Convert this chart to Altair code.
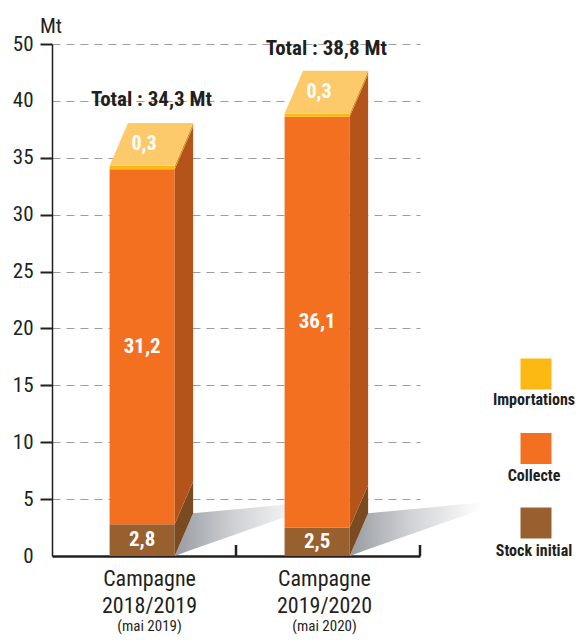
import altair as alt
import pandas as pd

# ------------------------------------------------------------------ data
campagne_line1 = ["Campagne", "Campagne"]
campagne_line2 = ["2018/2019", "2019/2020"]
campagne_line3 = ["(mai 2019)", "(mai 2020)"]
stock_initial = [2.8, 2.5]
collecte = [31.2, 36.1]
importations = [0.3, 0.3]
totals = [34.3, 38.8]
series_names = ["Stock initial", "Collecte", "Importations"]
legend_order = ["Importations", "Collecte", "Stock initial"]
y_tick_values = [0, 5, 10, 15, 20, 25, 30, 35, 40, 45]
y_tick_labels = ["0", "5", "10", "15", "20", "25", "30", "35", "40", "50"]
unit_label = "Mt"
total_prefix = "Total : "

# ------------------------------------------------------------------ style
FONT = "Liberation Sans Narrow, Roboto Condensed, Arial Narrow, Roboto, sans-serif"
INK = "#231F20"
front_colors = {"Stock initial": "#98602F", "Collecte": "#F37021", "Importations": "#FDB913"}
side_colors = {"Stock initial": "#7A4A21", "Collecte": "#B5541A", "Importations": "#D99412"}
top_color = "#FDCA6B"
HALF = 0.177   # half width of a bar front (x units)
DX = 0.10      # depth offset along x (x units)
DY = 3.75      # depth offset along y (y units)
SLOT = 0.49    # first bar centre
STEP = 0.951   # distance between bar centres


def fr(v):
    return f"{v:.1f}".replace(".", ",")


n = len(totals)
centers = [SLOT + i * STEP for i in range(n)]

front_rows, side_rows, top_rows, shadow_rows, label_rows = [], [], [], [], []
for i in range(n):
    c = centers[i]
    xl, xr = c - HALF, c + HALF
    segs = [("Stock initial", stock_initial[i]), ("Collecte", collecte[i]), ("Importations", importations[i])]
    lo = 0.0
    for name, v in segs:
        hi = lo + v
        front_rows.append(dict(x=xl, x2=xr, y=lo, y2=hi, col=front_colors[name]))
        pid = f"{i}-{name}"
        side_rows.append(dict(pid=pid, x=xr, lo=lo, hi=hi, col=side_colors[name]))
        side_rows.append(dict(pid=pid, x=xr + DX, lo=lo + DY, hi=hi + DY, col=side_colors[name]))
        if name != "Importations":
            label_rows.append(dict(x=c, y=(lo + hi) / 2, t=fr(v), fs=21))
        lo = hi
    top = lo
    pid = f"top{i}"
    for xx, a, b in [(xl, top, top), (xl + DX, top, top + DY), (xr, top, top + DY), (xr + DX, top + DY, top + DY)]:
        top_rows.append(dict(pid=pid, x=xx, lo=a, hi=b, col=top_color))
    label_rows.append(dict(x=c + 0.01, y=top + DY / 2, t=fr(importations[i]), fs=20))
    sid = f"sh{i}"
    for xx, a, b in [(xr, 0.0, 0.0), (xr + DX, 0.6, DY), (xr + 0.72, 4.1, 4.7)]:
        shadow_rows.append(dict(pid=sid, x=xx, lo=a, hi=b))

front_df = pd.DataFrame(front_rows)
side_df = pd.DataFrame(side_rows)
top_df = pd.DataFrame(top_rows)
shadow_df = pd.DataFrame(shadow_rows)
label_df = pd.DataFrame(label_rows)
total_df = pd.DataFrame(dict(x=[c + DX / 2 for c in centers],
                             y=[t + 5.25 for t in totals],
                             t=[f"{total_prefix}{fr(t)} {unit_label}" for t in totals]))
cat_rows = []
for i in range(n):
    for txt, py, fs in [(campagne_line1[i], 586, 22), (campagne_line2[i], 613, 22), (campagne_line3[i], 631, 15)]:
        cat_rows.append(dict(x=centers[i] + 0.04, py=py - 44, fs=fs, t=txt))
cat_df = pd.DataFrame(cat_rows)
tick_df = pd.DataFrame(dict(x=[float(i + 1) for i in range(n)]))
leg_df = pd.DataFrame(dict(
    name=legend_order,
    col=[front_colors[s] for s in legend_order],
    px=[484] * 3,
    tx=[482] * 3,
    py=[330 + 74.5 * k for k in range(3)],
    ty=[361 + 75.5 * k for k in range(3)],
))
unit_df = pd.DataFrame(dict(t=[unit_label]))

# ------------------------------------------------------------------ scales / axes
W, H = 368, 512
xs = alt.Scale(domain=[0, 2], nice=False, zero=False)
ys = alt.Scale(domain=[0, 45], nice=False, zero=False)

label_expr = "datum.label"
for v, l in zip(y_tick_values, y_tick_labels):
    if str(v) != l:
        label_expr = f"datum.value == {v} ? '{l}' : ({label_expr})"

y_axis = alt.Axis(
    values=y_tick_values, labelExpr=label_expr, title=None,
    labelFont=FONT, labelFontSize=21, labelColor=INK, labelPadding=7,
    domainColor=INK, domainWidth=1.5, tickColor=INK, tickWidth=2, tickSize=12,
    tickOpacity={"condition": {"test": "datum.value == 0 || datum.value == 40", "value": 0}, "value": 1},
    grid=True, gridDash=[8, 6], gridColor="#9d9d9d", gridWidth=1,
    gridOpacity={"condition": {"test": "datum.value == 0", "value": 0}, "value": 1},
)
x_axis = alt.Axis(labels=False, ticks=False, grid=False, title=None, domainColor=INK, domainWidth=2.5)


def X(field):
    return alt.X(field, scale=xs, axis=x_axis)


def Y(field):
    return alt.Y(field, scale=ys, axis=y_axis, stack=None)


shadow = alt.Chart(shadow_df).mark_area(
    fill=alt.LinearGradient(gradient="linear",
                            stops=[alt.GradientStop(offset=0, color="#979ba1"),
                                   alt.GradientStop(offset=0.45, color="#cfd1d4"),
                                   alt.GradientStop(offset=1, color="#ffffff")],
                            x1=0, x2=1, y1=0, y2=0)
).encode(x=X("x:Q"), y=Y("lo:Q"), y2="hi:Q", detail="pid:N")

fronts = alt.Chart(front_df).mark_rect().encode(
    x=X("x:Q"), x2="x2:Q", y=Y("y:Q"), y2="y2:Q",
    color=alt.Color("col:N", scale=None),
)

sides = alt.Chart(side_df).mark_area().encode(
    x=X("x:Q"), y=Y("lo:Q"), y2="hi:Q", detail="pid:N",
    color=alt.Color("col:N", scale=None),
)

tops = alt.Chart(top_df).mark_area().encode(
    x=X("x:Q"), y=Y("lo:Q"), y2="hi:Q", detail="pid:N",
    color=alt.Color("col:N", scale=None),
)

ticks = alt.Chart(tick_df).mark_rule(color=INK, strokeWidth=2.5).encode(
    x=X("x:Q"), y=alt.value(H - 11), y2=alt.value(H),
)

values = alt.Chart(label_df).mark_text(font=FONT, fontWeight="bold", color="white",
                                       baseline="middle").encode(
    x=X("x:Q"), y=Y("y:Q"), size=alt.Size("fs:Q", scale=None), text="t:N",
)

total_txt = alt.Chart(total_df).mark_text(font=FONT, fontSize=21, fontWeight="bold", color=INK,
                                          baseline="alphabetic").encode(
    x=X("x:Q"), y=Y("y:Q"), text="t:N",
)

cats = alt.Chart(cat_df).mark_text(font=FONT, color=INK, baseline="alphabetic").encode(
    x=X("x:Q"), y=alt.Y("py:Q", scale=None),
    size=alt.Size("fs:Q", scale=None), text="t:N",
)

leg_sq = alt.Chart(leg_df).mark_square(size=31 * 31, opacity=1).encode(
    x=alt.X("px:Q", scale=None), y=alt.Y("py:Q", scale=None),
    color=alt.Color("col:N", scale=None),
)
leg_tx = alt.Chart(leg_df).mark_text(font=FONT, fontSize=16, fontWeight="bold", color=INK,
                                     baseline="alphabetic").encode(
    x=alt.X("tx:Q", scale=None), y=alt.Y("ty:Q", scale=None), text="name:N",
)

unit = alt.Chart(unit_df).mark_text(font=FONT, fontSize=21, color=INK, align="left",
                                    baseline="alphabetic").encode(
    x=alt.value(-12), y=alt.value(-11), text="t:N",
)

chart = alt.layer(shadow, fronts, sides, tops, ticks, values, total_txt, cats, leg_sq, leg_tx, unit).properties(
    width=W, height=H,
    autosize=alt.AutoSizeParams(type="none"),
    padding={"left": 44, "top": 36, "right": 157, "bottom": 80},
).configure_view(stroke=None)

chart.save("out.html", embed_options={"renderer": "svg", "actions": False})
